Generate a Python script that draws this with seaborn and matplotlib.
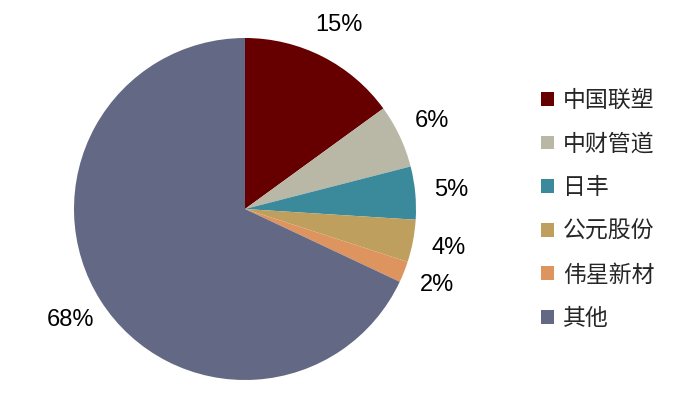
import matplotlib
matplotlib.use("Agg")
import matplotlib.pyplot as plt
import seaborn as sns
from matplotlib.patches import Patch

categories = ["中国联塑", "中财管道", "日丰", "公元股份", "伟星新材", "其他"]
shares = [15, 6, 5, 4, 2, 68]
colors = ["#660000", "#B9B8A7", "#3B8A9C", "#BF9F5E", "#DE945F", "#636985"]

sns.set_theme(style="white")
plt.rcParams['font.family'] = ['Noto Sans CJK SC', 'DejaVu Sans']

palette = sns.color_palette(colors)

fig = plt.figure(figsize=(7.0, 4.16), dpi=100)
W, H = 700, 416
cx, cy, r = 245, 209, 171
half = 1.25 * r
ax = fig.add_axes([(cx - half) / W, (H - cy - half) / H, 2 * half / W, 2 * half / H])

wedges, texts, autotexts = ax.pie(
    shares, colors=palette, startangle=90, counterclock=False,
    autopct=lambda p: f"{p:.0f}%", pctdistance=1.21,
    textprops=dict(fontsize=17, family=['Liberation Sans', 'DejaVu Sans'], color='black'),
    wedgeprops=dict(linewidth=0),
)
ax.set_xlim(-1.25, 1.25)
ax.set_ylim(-1.25, 1.25)
ax.set_aspect('equal')
ax.axis('off')

handles = [Patch(facecolor=c, edgecolor='none') for c in palette]
fig.legend(handles, categories, loc='upper left', bbox_to_anchor=(541 / W, 1 - 89 / H),
           frameon=False, handlelength=0.55, handleheight=0.55,
           handletextpad=0.42, labelspacing=0.9, borderaxespad=0, borderpad=0,
           prop={'family': ['Noto Sans CJK SC', 'DejaVu Sans'], 'size': 16.5})

fig.savefig("out.png", dpi=100)
